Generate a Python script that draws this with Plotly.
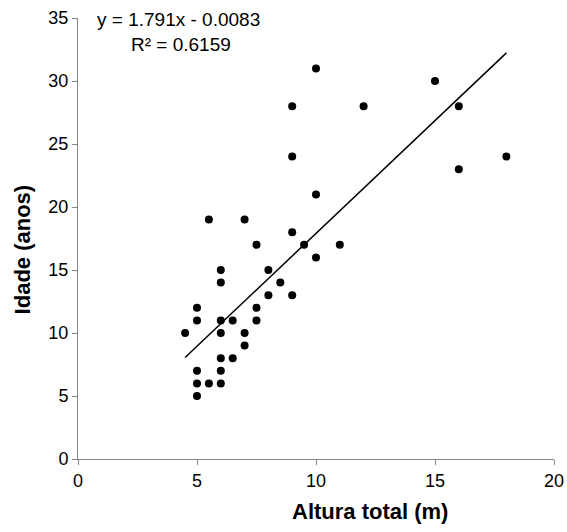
import plotly.graph_objects as go

altura = [4.5, 5, 5, 5, 5, 5, 5.5, 5.5, 6, 6, 6, 6, 6, 6, 6, 6.5, 6.5,
          7, 7, 7, 7.5, 7.5, 7.5, 8, 8, 8.5, 9, 9, 9, 9, 9.5, 10, 10, 10,
          11, 12, 15, 16, 16, 18]
idade = [10, 5, 6, 7, 11, 12, 6, 19, 6, 7, 8, 10, 11, 14, 15, 8, 11,
         9, 10, 19, 11, 12, 17, 13, 15, 14, 13, 18, 24, 28, 17, 16, 21, 31,
         17, 28, 30, 23, 28, 24]

slope = 1.791
intercept = -0.0083
r2 = 0.6159
trend_x = [min(altura), max(altura)]
trend_y = [slope * v + intercept for v in trend_x]

x_ticks = [0, 5, 10, 15, 20]
y_ticks = [0, 5, 10, 15, 20, 25, 30, 35]

fig = go.Figure()
fig.add_trace(go.Scatter(x=trend_x, y=trend_y, mode="lines",
                         line=dict(color="black", width=1.5), showlegend=False))
fig.add_trace(go.Scatter(x=altura, y=idade, mode="markers",
                         marker=dict(color="black", size=8), showlegend=False))

axis_col = "#868686"
font_fam = "Liberation Sans, Arial, sans-serif"
fig.update_layout(
    width=567, height=532,
    margin=dict(l=78, r=13, t=18, b=73, autoexpand=False),
    paper_bgcolor="white", plot_bgcolor="white",
    font=dict(family=font_fam, color="black", size=18),
    xaxis=dict(range=[0, 20], tickvals=x_ticks, showgrid=False, zeroline=False,
               showline=True, linecolor=axis_col, linewidth=1,
               ticks="outside", ticklen=5, tickcolor=axis_col, automargin=False,
               tickfont=dict(size=18, color="black")),
    yaxis=dict(range=[0, 35], tickvals=y_ticks, showgrid=False, zeroline=False,
               showline=True, linecolor=axis_col, linewidth=1,
               ticks="outside", ticklen=5, tickcolor=axis_col, automargin=False,
               tickfont=dict(size=18, color="black")),
    annotations=[
        dict(text="<b>Altura total (m)</b>", xref="paper", yref="paper",
             x=0.613, y=-0.118, xanchor="center", yanchor="middle",
             showarrow=False, font=dict(size=22)),
        dict(text="<b>Idade (anos)</b>", xref="paper", yref="paper",
             x=-0.117, y=0.476, xanchor="center", yanchor="middle",
             textangle=-90, showarrow=False, font=dict(size=22)),
        dict(text=f"y = {slope}x - {abs(intercept)}", xref="paper", yref="paper",
             x=(95 - 78) / 476, y=(459 - 20) / 441, xanchor="left", yanchor="middle",
             showarrow=False, font=dict(size=19)),
        dict(text=f"R² = {r2}", xref="paper", yref="paper",
             x=(181 - 78) / 476, y=(459 - 44) / 441, xanchor="center", yanchor="middle",
             showarrow=False, font=dict(size=19)),
    ],
)
fig.write_html("out.html")
